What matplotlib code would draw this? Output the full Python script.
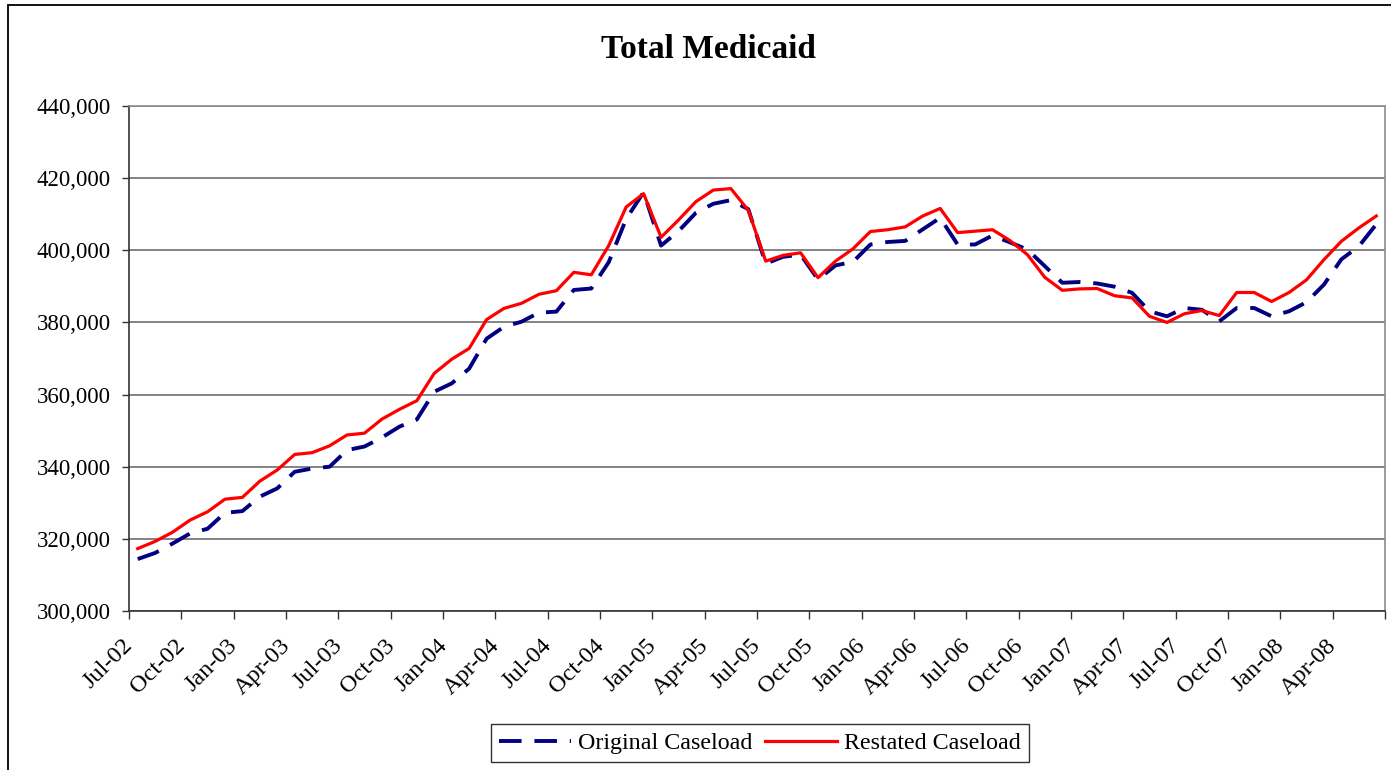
import matplotlib
matplotlib.use("Agg")
import matplotlib.pyplot as plt
from matplotlib.patches import Rectangle
from matplotlib.ticker import FuncFormatter, FixedLocator
import numpy as np

# ---------------- data ----------------
months = ["Jul-02", "Aug-02", "Sep-02", "Oct-02", "Nov-02", "Dec-02",
          "Jan-03", "Feb-03", "Mar-03", "Apr-03", "May-03", "Jun-03",
          "Jul-03", "Aug-03", "Sep-03", "Oct-03", "Nov-03", "Dec-03",
          "Jan-04", "Feb-04", "Mar-04", "Apr-04", "May-04", "Jun-04",
          "Jul-04", "Aug-04", "Sep-04", "Oct-04", "Nov-04", "Dec-04",
          "Jan-05", "Feb-05", "Mar-05", "Apr-05", "May-05", "Jun-05",
          "Jul-05", "Aug-05", "Sep-05", "Oct-05", "Nov-05", "Dec-05",
          "Jan-06", "Feb-06", "Mar-06", "Apr-06", "May-06", "Jun-06",
          "Jul-06", "Aug-06", "Sep-06", "Oct-06", "Nov-06", "Dec-06",
          "Jan-07", "Feb-07", "Mar-07", "Apr-07", "May-07", "Jun-07",
          "Jul-07", "Aug-07", "Sep-07", "Oct-07", "Nov-07", "Dec-07",
          "Jan-08", "Feb-08", "Mar-08", "Apr-08", "May-08", "Jun-08"]

original_caseload = [
    314400, 316100, 318700, 321500, 322800, 327200,
    327700, 331700, 334000, 338600, 339500, 340000,
    344600, 345600, 348100, 351100, 353100, 360800,
    363100, 367200, 375500, 378800, 380200, 382700,
    383000, 389000, 389400, 396700, 408700, 416100,
    401300, 405300, 410400, 412900, 413900, 411400,
    396300, 398200, 398800, 391900, 395800, 396800,
    401600, 402300, 402600, 405800, 409000, 401600,
    401600, 404100, 402200, 400200, 395600, 391000,
    391200, 390800, 389900, 388200, 383100, 381700,
    384000, 383500, 380300, 384000, 384000, 381700,
    383100, 385600, 390500, 397500, 401100, 407200]

restated_caseload = [
    317300, 319300, 321850, 325200, 327500, 331000,
    331500, 336000, 339100, 343400, 343900, 345800,
    348800, 349300, 353200, 355900, 358300, 365900,
    369800, 372800, 380800, 383900, 385300, 387800,
    388800, 393900, 393200, 401300, 412000, 415700,
    403600, 408400, 413500, 416700, 417100, 411100,
    397000, 398600, 399300, 392400, 397000, 400400,
    405200, 405700, 406500, 409500, 411600, 404900,
    405300, 405700, 402700, 398800, 392500, 388900,
    389300, 389400, 387400, 386800, 381700, 380000,
    382400, 383300, 381900, 388300, 388300, 385800,
    388300, 391800, 397400, 402500, 406200, 409500]

y_ticks = [300000, 320000, 340000, 360000, 380000, 400000, 420000, 440000]
title = "Total Medicaid"
series_names = ["Original Caseload", "Restated Caseload"]

# ---------------- figure ----------------
W, H = 1391, 770
fig = plt.figure(figsize=(W / 100, H / 100), dpi=100)
serif = ["Liberation Serif", "DejaVu Serif"]
plt.rcParams["font.family"] = serif

ax = fig.add_axes([129 / W, 1 - 611 / H, (1385 - 129) / W, (611 - 106) / H])

x = np.arange(len(months))
ax.plot(x, original_caseload, color="#000080", lw=2.8,
        linestyle=(0, (5.8, 3.3)), label=series_names[0], zorder=3)
ax.plot(x, restated_caseload, color="#FF0000", lw=2.3,
        label=series_names[1], zorder=4)

ax.set_xlim(-0.5, len(months) - 0.5)
ax.set_ylim(y_ticks[0], y_ticks[-1])

# y axis
ax.yaxis.set_major_locator(FixedLocator(y_ticks))
ax.yaxis.set_major_formatter(FuncFormatter(lambda v, p: f"{v:,.0f}"))
ax.tick_params(axis="y", direction="out", length=5, width=1, color="#333333",
               labelsize=16.5, pad=8)
ax.grid(axis="y", color="#6e6e6e", lw=1.2, zorder=1)
ax.set_axisbelow(True)

# x axis: ticks at quarter boundaries, labels at every third month
ax.set_xticks(np.arange(-0.5, len(months), 3))
ax.set_xticklabels([])
ax.tick_params(axis="x", direction="out", length=6, width=1, color="#333333")
for k in range(0, len(months), 3):
    ax.text(k - 0.45, -0.062, months[k], transform=ax.get_xaxis_transform(),
            rotation=45, rotation_mode="anchor", ha="right", va="center",
            fontsize=17.5, family=serif)

for side in ["left", "bottom"]:
    ax.spines[side].set_color("#333333")
    ax.spines[side].set_linewidth(1.2)
for side in ["right", "top"]:
    ax.spines[side].set_color("#8c8c8c")
    ax.spines[side].set_linewidth(1.2)

# title
fig.text(708 / W, 1 - 50 / H, title, ha="center", va="center",
         fontsize=24, fontweight="bold", family=serif)

# legend
leg = fig.legend(loc="center", bbox_to_anchor=(760 / W, 1 - 743 / H),
                 ncol=2, frameon=True, fancybox=False, fontsize=17.3,
                 handlelength=3.0, handletextpad=0.3, columnspacing=0.5,
                 borderpad=0.33, borderaxespad=0)
leg.get_frame().set_edgecolor("black")
leg.get_frame().set_linewidth(1.0)

# outer chart border
fig.add_artist(Rectangle((8 / W, -0.1), 1.2, 1.1 - 5 / H, transform=fig.transFigure,
                         fill=False, edgecolor="black", lw=1.3))

fig.savefig("out.png", dpi=100)
